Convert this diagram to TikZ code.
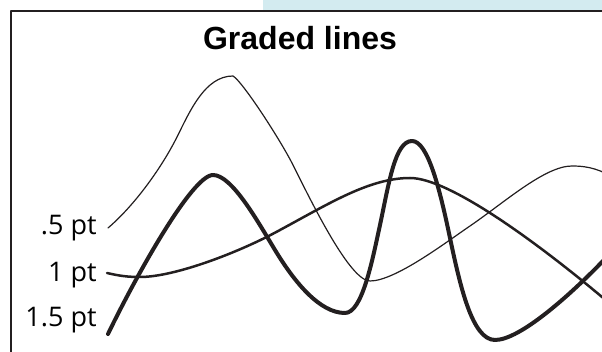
\documentclass[tikz,border=0pt]{standalone}
\usepackage{fontspec}
\setmainfont{Open Sans}
\newfontfamily\titlefont{Liberation Sans}
\usepackage{tikz}
\usetikzlibrary{positioning,calc}
\definecolor{bandblue}{HTML}{D3EBF0}
\definecolor{inkblack}{HTML}{231F20}

\begin{document}
\begin{tikzpicture}[x=0.5pt,y=-0.5pt,line join=round,line cap=round,
    gradelabel/.style={anchor=base east,inner sep=0pt,font=\fontsize{13.5}{15}\selectfont},
    gradecurve/.style={draw=inkblack}]
      \useasboundingbox (0,0) rectangle (602,352);
      \clip (0,0) rectangle (602,352);

      \fill[bandblue] (263,0) rectangle (602,10);
      \draw[inkblack,line width=1.3pt,line cap=butt] (11,360) -- (11,11) -- (610,11);

      \node[inner sep=0pt,font=\titlefont\bfseries\fontsize{16}{18}\selectfont] (title) at (300,38) {Graded lines};

      \node[gradelabel] (half) at (97,235) {.5 pt};
      \node[gradelabel] (one) at (97,282) {1 pt};
      \node[gradelabel] (oneandhalf) at (97,327) {1.5 pt};

      \coordinate (S1) at (108,228);
      \coordinate (S2) at (107,273);
      \coordinate (S3) at (108,334);

      % .5 pt
      \draw[gradecurve,line width=0.6pt] (S1) .. controls (135,205) and (162,167) .. (177,137)
        .. controls (190,111) and (205,76) .. (233,76)
        .. controls (243,82) and (281,141) .. (293,165)
        .. controls (312,203) and (350,281) .. (370,281)
        .. controls (395,281) and (445,243) .. (470,226)
        .. controls (505,202) and (545,166) .. (572,166)
        .. controls (590,166) and (600,170) .. (615,178);
      % 1 pt
      \draw[gradecurve,line width=1.25pt] (S2) .. controls (120,276) and (128,277) .. (140,277)
        .. controls (175,277) and (240,252) .. (280,230)
        .. controls (330,203) and (370,178) .. (410,178)
        .. controls (450,178) and (540,245) .. (602,297)
        -- (620,312);
      % 1.5 pt
      \draw[gradecurve,line width=2pt] (S3) .. controls (135,278) and (192,175) .. (213,175)
        .. controls (232,175) and (258,222) .. (275,250)
        .. controls (295,283) and (320,313) .. (345,313)
        .. controls (362,313) and (372,262) .. (380,225)
        .. controls (389,183) and (395,141) .. (412,141)
        .. controls (428,141) and (440,190) .. (450,238)
        .. controls (460,285) and (472,340) .. (495,340)
        .. controls (520,340) and (570,295) .. (602,262)
        -- (620,243);
    \end{tikzpicture}
\end{document}
